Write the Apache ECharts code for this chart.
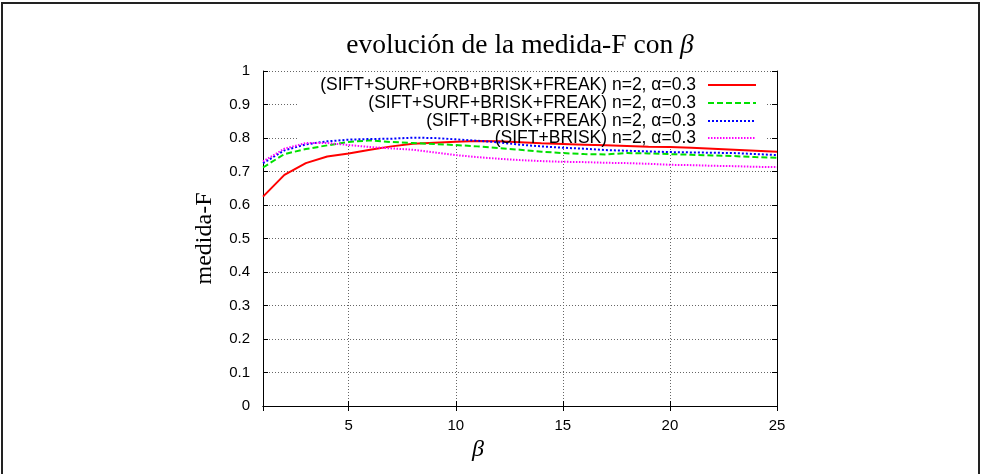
<!doctype html>
<html>
    <head>
        <meta charset="utf-8">
        <style>
            html, body { margin: 0; padding: 0; background: #fff; }
            #main { width: 981px; height: 474px; }
        </style>
    </head>
    <body>
        <div id="main"></div>
        <script src="https://cdn.jsdelivr.net/npm/echarts@6/dist/echarts.min.js"></script>
        <script>
            var chart = echarts.init(document.getElementById('main'));

            var betas = [1, 2, 3, 4, 5, 6, 7, 8, 9, 10, 11, 12, 13, 14, 15, 16, 17, 18, 19, 20, 21, 22, 23, 24, 25];
            var names = [
                '(SIFT+SURF+ORB+BRISK+FREAK) n=2, α=0.3',
                '(SIFT+SURF+BRISK+FREAK) n=2, α=0.3',
                '(SIFT+BRISK+FREAK) n=2, α=0.3',
                '(SIFT+BRISK) n=2, α=0.3'
            ];
            var allFive = [0.625, 0.69, 0.725, 0.745, 0.754, 0.765, 0.775, 0.783, 0.786, 0.789, 0.791, 0.790, 0.787,
                0.784, 0.782, 0.780, 0.778, 0.776, 0.774, 0.773, 0.771, 0.768, 0.765, 0.762, 0.759];
            var noOrb = [0.712, 0.752, 0.767, 0.778, 0.788, 0.793, 0.788, 0.785, 0.782, 0.779, 0.775, 0.770, 0.765,
                0.759, 0.755, 0.752, 0.751, 0.755, 0.754, 0.752, 0.750, 0.748, 0.746, 0.743, 0.741];
            var briskFreak = [0.725, 0.763, 0.781, 0.790, 0.795, 0.797, 0.798, 0.801, 0.800, 0.796, 0.792, 0.787, 0.780,
                0.775, 0.771, 0.768, 0.764, 0.762, 0.760, 0.758, 0.757, 0.756, 0.755, 0.752, 0.749];
            var siftBrisk = [0.730, 0.768, 0.785, 0.785, 0.779, 0.773, 0.769, 0.765, 0.757, 0.749, 0.743, 0.738, 0.734,
                0.731, 0.729, 0.728, 0.726, 0.725, 0.723, 0.720, 0.719, 0.717, 0.716, 0.714, 0.713];
            var yTicks = [0, 0.1, 0.2, 0.3, 0.4, 0.5, 0.6, 0.7, 0.8, 0.9, 1];

            var values = [allFive, noOrb, briskFreak, siftBrisk];
            var colors = ['#ff0000', '#00e000', '#0000ff', '#ff00ff'];
            var dashes = ['solid', [6, 3], [2, 2], [1.5, 1.5]];
            var legendTops = [76, 94, 112, 129];

            function pairs(ys) {
                return betas.map(function (b, i) { return [b, ys[i]]; });
            }

            var series = values.map(function (ys, i) {
                return {
                    type: 'line',
                    name: names[i],
                    data: pairs(ys),
                    showSymbol: false,
                    symbol: 'none',
                    z: 2,
                    lineStyle: { color: colors[i], width: 2, type: dashes[i] },
                    itemStyle: { color: colors[i] }
                };
            });

            var legends = names.map(function (n, i) {
                return {
                    data: [n],
                    orient: 'vertical',
                    align: 'right',
                    right: 224,
                    top: legendTops[i],
                    itemWidth: 48,
                    itemHeight: 14,
                    selectedMode: false,
                    padding: 0,
                    itemStyle: { color: 'rgba(0,0,0,0)', borderWidth: 0, opacity: 0 },
                    textStyle: {
                        fontFamily: 'Liberation Sans, Arial, sans-serif',
                        fontSize: 17.5,
                        color: '#000',
                        padding: [0, 7, 0, 0]
                    }
                };
            });

            var tickFont = { fontFamily: 'Liberation Sans, Arial, sans-serif', fontSize: 15, color: '#000' };
            var dotted = { color: '#666', width: 1, type: [1, 2] };

            chart.setOption({
                animation: false,
                title: {
                    text: '{a|evolución de la medida-F con }{b|β}',
                    left: 515,
                    top: 27,
                    textAlign: 'center',
                    textStyle: {
                        fontWeight: 'normal',
                        rich: {
                            a: { fontFamily: 'Liberation Serif, serif', fontSize: 27.5, fontWeight: 'normal', color: '#000' },
                            b: { fontFamily: 'Liberation Serif, serif', fontSize: 27.5, fontWeight: 'normal', fontStyle: 'italic', color: '#000' }
                        }
                    }
                },
                legend: legends,
                grid: { left: 263, right: 204, top: 71, bottom: 68, containLabel: false },
                graphic: [
                    {
                        type: 'rect',
                        z: 1,
                        shape: { x: 297, y: 72, width: 468, height: 74 },
                        style: { fill: '#fff' }
                    },
                    {
                        type: 'rect',
                        z: 10,
                        shape: { x: 2, y: 3, width: 977, height: 490 },
                        style: { fill: 'none', stroke: '#222', lineWidth: 2 }
                    }
                ],
                xAxis: [{
                    type: 'value',
                    min: 1,
                    max: 25,
                    splitNumber: 5,
                    name: 'β',
                    nameLocation: 'middle',
                    nameGap: 22,
                    nameTextStyle: {
                        fontFamily: 'Liberation Serif, serif', fontSize: 24, fontStyle: 'italic', color: '#000',
                        padding: [0, 84, 0, 0]
                    },
                    axisLine: { show: true, lineStyle: { color: '#000', width: 1 } },
                    axisTick: { show: true, inside: true, length: 5, lineStyle: { color: '#000' } },
                    axisLabel: Object.assign({ margin: 12, showMinLabel: false }, tickFont),
                    splitLine: { show: true, lineStyle: dotted }
                }, {
                    type: 'value',
                    position: 'top',
                    min: 1,
                    max: 25,
                    splitNumber: 5,
                    axisLine: { show: true, lineStyle: { color: '#000', width: 1 } },
                    axisTick: { show: true, inside: true, length: 5, lineStyle: { color: '#000' } },
                    axisLabel: { show: false },
                    splitLine: { show: false }
                }],
                yAxis: [{
                    type: 'value',
                    min: yTicks[0],
                    max: yTicks[yTicks.length - 1],
                    interval: 0.1,
                    name: 'medida-F',
                    nameLocation: 'middle',
                    nameGap: 46,
                    nameTextStyle: { fontFamily: 'Liberation Serif, serif', fontSize: 24, color: '#000' },
                    axisLine: { show: true, lineStyle: { color: '#000', width: 1 } },
                    axisTick: { show: true, inside: true, length: 5, lineStyle: { color: '#000' } },
                    axisLabel: Object.assign({ margin: 13 }, tickFont),
                    splitLine: { show: true, lineStyle: dotted }
                }, {
                    type: 'value',
                    position: 'right',
                    min: yTicks[0],
                    max: yTicks[yTicks.length - 1],
                    interval: 0.1,
                    axisLine: { show: true, lineStyle: { color: '#000', width: 1 } },
                    axisTick: { show: true, inside: true, length: 5, lineStyle: { color: '#000' } },
                    axisLabel: { show: false },
                    splitLine: { show: false }
                }],
                series: series
            });

            window.onresize = chart.resize;
        </script>
    </body>
</html>
